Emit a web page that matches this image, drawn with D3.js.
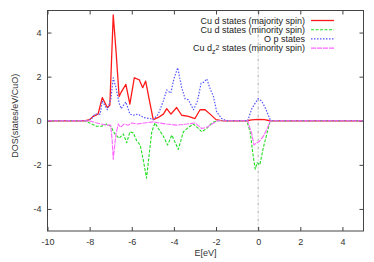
<!DOCTYPE html>
<html>
<head>
<meta charset="utf-8">
<script src="https://cdn.jsdelivr.net/npm/d3@7"></script>
<style>
  body { margin: 0; background: #fff; }
  svg { display: block; font-family: "Liberation Sans", Arial, sans-serif; }
</style>
</head>
<body>
<div id="chart"></div>
<script>
// DOS curves, [energy eV, states/eV/CuO]
const cuMajority = [
  [-10, 0], [-8.2, 0], [-8.0, 0.05], [-7.83, 0.2], [-7.6, 0.3], [-7.4, 1.05], [-7.16, 0.6],
  [-7.04, 0.7], [-6.88, 4.8], [-6.75, 3.2], [-6.6, 1.1], [-6.5, 1.3], [-6.28, 1.65],
  [-6.09, 0.75], [-5.88, 1.95], [-5.64, 1.85], [-5.48, 1.5], [-5.34, 1.8], [-5.18, 1.0],
  [-4.98, 0.05], [-4.74, 0.15], [-4.5, 0.3], [-4.34, 0.55], [-4.14, 0.3], [-3.87, 0.6],
  [-3.63, 0.25], [-3.31, 0.2], [-3.0, 0.1], [-2.76, 0.5], [-2.52, 0.5], [-2.28, 0.3],
  [-2.0, 0.05], [-1.8, 0.02], [-1.6, 0], [-0.55, 0], [-0.3, 0.04], [0, 0.06], [0.3, 0.05],
  [0.55, 0], [5, 0]
];
const cuMinority = [
  [-10, 0], [-8.2, 0], [-8.0, -0.1], [-7.67, -0.25], [-7.43, -0.25], [-7.2, -0.15],
  [-7.0, -0.25], [-6.8, -0.6], [-6.6, -0.8], [-6.4, -0.6], [-6.24, -1.0], [-6.09, -0.5],
  [-5.93, -0.55], [-5.77, -0.9], [-5.6, -1.1], [-5.45, -1.8], [-5.3, -2.6], [-5.17, -1.5],
  [-5.05, -0.5], [-4.9, -0.1], [-4.74, -0.35], [-4.5, -0.7], [-4.3, -1.1], [-4.1, -0.65],
  [-3.79, -1.3], [-3.55, -0.5], [-3.31, -0.3], [-3.07, -0.15], [-2.84, -0.35],
  [-2.68, -0.5], [-2.44, -0.35], [-2.2, -0.1], [-1.97, 0], [-0.54, 0], [-0.38, -0.5],
  [-0.25, -1.5], [-0.14, -2.2], [-0.05, -1.9], [0.08, -2.0], [0.25, -1.2], [0.41, -0.6],
  [0.57, 0], [5, 0]
];
const oP = [
  [-10, 0], [-8.1, 0], [-7.9, 0.1], [-7.75, 0.3], [-7.5, 0.3], [-7.4, 0.9], [-7.16, 0.5],
  [-6.99, 1.0], [-6.88, 1.95], [-6.75, 1.5], [-6.6, 0.8], [-6.5, 0.55], [-6.28, 0.85],
  [-6.09, 0.3], [-5.93, 0.25], [-5.7, 0.3], [-5.45, 0.15], [-5.13, 0.1], [-4.98, 0.05],
  [-4.74, 0.3], [-4.5, 0.9], [-4.34, 1.4], [-4.15, 1.25], [-4.0, 1.9], [-3.82, 2.4],
  [-3.63, 1.5], [-3.47, 1.0], [-3.31, 0.95], [-3.07, 0.5], [-2.88, 0.9], [-2.71, 1.7],
  [-2.57, 1.75], [-2.44, 1.9], [-2.28, 1.45], [-2.12, 1.1], [-1.97, 0.4], [-1.73, 0.1],
  [-1.52, 0], [-0.5, 0], [-0.3, 0.55], [-0.14, 0.8], [0, 1.0], [0.16, 0.9], [0.33, 0.6],
  [0.57, 0.05], [0.65, 0], [5, 0]
];
const cuDz2Minority = [
  [-10, 0], [-8.2, 0], [-7.9, -0.03], [-7.67, -0.1], [-7.2, -0.2], [-7.0, -0.2],
  [-6.93, -0.9], [-6.88, -1.75], [-6.75, -0.6], [-6.64, -0.15], [-6.53, -0.3],
  [-6.37, -0.15], [-6.16, -0.2], [-6.0, -0.1], [-5.77, -0.15], [-5.4, -0.1], [-5.0, -0.05],
  [-4.82, -0.08], [-4.34, -0.15], [-3.87, -0.2], [-3.39, -0.15], [-3.0, -0.1],
  [-2.68, -0.35], [-2.44, -0.3], [-2.12, -0.1], [-1.9, 0], [-0.5, 0], [-0.3, -0.6],
  [-0.2, -1.1], [-0.08, -1.0], [0.05, -0.95], [0.25, -0.7], [0.41, -0.4], [0.57, 0], [5, 0]
];

const xTicks = [-10, -8, -6, -4, -2, 0, 2, 4];
const yTicks = [-4, -2, 0, 2, 4];

const series = [
  { name: "Cu d states (majority spin)", data: cuMajority, color: "#ff1a1a", dash: null, width: 1.3 },
  { name: "Cu d states (minority spin)", data: cuMinority, color: "#22dd22", dash: "3,1.5", width: 1.1 },
  { name: "O p states", data: oP, color: "#5555ff", dash: "1.5,1.5", width: 1.2 },
  { name: "dz2", data: cuDz2Minority, color: "#ff66ff", dash: "5,1", width: 1.1 }
];

const W = 374, H = 262;
const m = { left: 47.5, right: 363.5, top: 10.5, bottom: 231 };

const svg = d3.select("#chart").append("svg")
  .attr("width", W).attr("height", H);

const x = d3.scaleLinear().domain([-10, 5]).range([m.left, m.right]);
const y = d3.scaleLinear().domain([-5, 5]).range([m.bottom, m.top]);
const plain = d => String(d);  // hyphen minus like gnuplot

// zero line
svg.append("line")
  .attr("x1", x(0)).attr("x2", x(0))
  .attr("y1", m.top).attr("y2", m.bottom)
  .attr("stroke", "#999").attr("stroke-width", 0.8)
  .attr("stroke-dasharray", "3,2,1,2");

// axes with inward ticks on all four sides
const axisStyle = g => {
  g.select(".domain").remove();
  g.selectAll(".tick line").attr("stroke", "#444");
  g.selectAll(".tick text").attr("fill", "#333").attr("font-size", 9)
    .attr("font-family", "Liberation Sans, Arial, sans-serif");
};

svg.append("g")
  .attr("transform", `translate(0,${m.bottom})`)
  .call(d3.axisBottom(x).tickValues(xTicks).tickSize(-4).tickPadding(8).tickFormat(plain))
  .call(axisStyle);
svg.append("g")
  .attr("transform", `translate(0,${m.top})`)
  .call(d3.axisTop(x).tickValues(xTicks).tickSize(-4).tickFormat(""))
  .call(axisStyle);
svg.append("g")
  .attr("transform", `translate(${m.left},0)`)
  .call(d3.axisLeft(y).tickValues(yTicks).tickSize(-4).tickPadding(6).tickFormat(plain))
  .call(axisStyle);
svg.append("g")
  .attr("transform", `translate(${m.right},0)`)
  .call(d3.axisRight(y).tickValues(yTicks).tickSize(-4).tickFormat(""))
  .call(axisStyle);

// curves, drawn in plot order like gnuplot
const line = d3.line().x(d => x(d[0])).y(d => y(d[1]));
svg.append("clipPath").attr("id", "plotclip")
  .append("rect").attr("x", m.left).attr("y", m.top)
  .attr("width", m.right - m.left).attr("height", m.bottom - m.top);

series.forEach(s => {
  svg.append("path")
    .datum(s.data)
    .attr("clip-path", "url(#plotclip)")
    .attr("fill", "none")
    .attr("stroke", s.color)
    .attr("stroke-width", s.width)
    .attr("stroke-linejoin", "round")
    .attr("stroke-dasharray", s.dash)
    .attr("d", line);
});

// frame
svg.append("rect")
  .attr("x", m.left).attr("y", m.top)
  .attr("width", m.right - m.left).attr("height", m.bottom - m.top)
  .attr("fill", "none").attr("stroke", "#444").attr("stroke-width", 1);

// legend
const legend = svg.append("g").attr("font-size", 9).attr("fill", "#222");
series.forEach((s, i) => {
  const ly = 20.5 + i * 9.2;
  const t = legend.append("text")
    .attr("x", 305).attr("y", ly + 3.2)
    .attr("text-anchor", "end");
  if (s.name === "dz2") {
    t.append("tspan").text("Cu d");
    t.append("tspan").attr("font-size", 7).attr("dy", 2.5).text("z");
    t.append("tspan").attr("font-size", 7).attr("dy", -3.5).text("2");
    t.append("tspan").attr("dy", 1).text(" states (minority spin)");
  } else {
    t.text(s.name);
  }
  legend.append("line")
    .attr("x1", 311).attr("x2", 334)
    .attr("y1", ly).attr("y2", ly)
    .attr("stroke", s.color)
    .attr("stroke-width", s.width)
    .attr("stroke-dasharray", s.dash);
});

// axis labels
svg.append("text")
  .attr("x", (m.left + m.right) / 2).attr("y", 256)
  .attr("text-anchor", "middle").attr("font-size", 9).attr("fill", "#333")
  .text("E[eV]");
svg.append("text")
  .attr("transform", `translate(18,${(m.top + m.bottom) / 2 - 5}) rotate(-90)`)
  .attr("text-anchor", "middle").attr("font-size", 9).attr("fill", "#333")
  .text("DOS(states/eV/CuO)");
</script>
</body>
</html>
